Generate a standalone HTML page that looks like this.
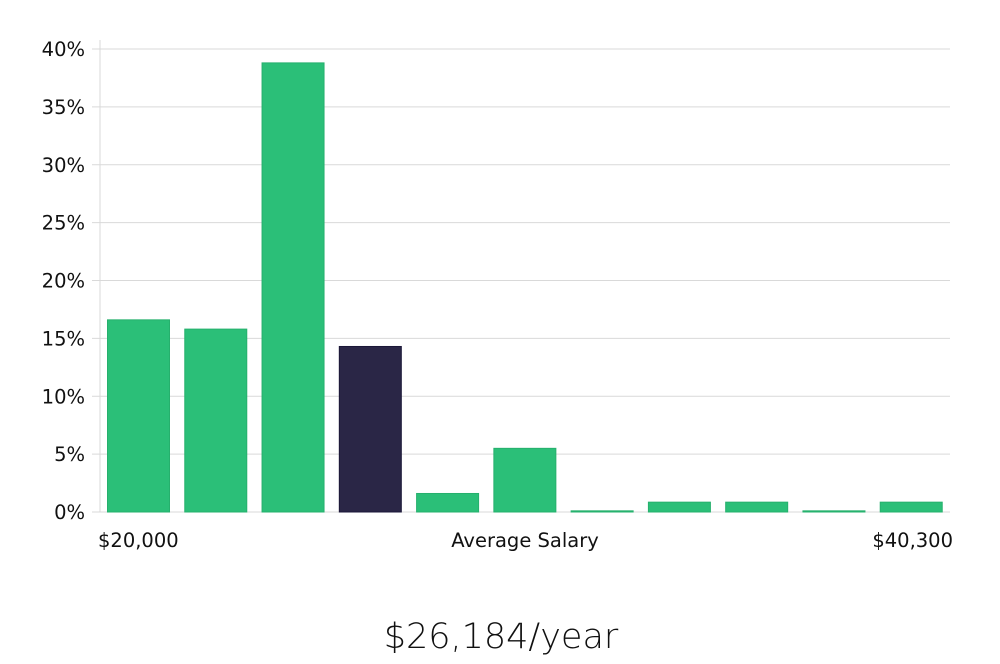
<!DOCTYPE html>
<html><head><meta charset="utf-8"><style>
body{margin:0;background:#fff;width:1000px;height:660px;overflow:hidden;font-family:"DejaVu Sans","Liberation Sans",sans-serif}
svg text{font-family:"DejaVu Sans","Liberation Sans",sans-serif}
</style></head><body>
<svg id="chart" width="1000" height="660" xmlns="http://www.w3.org/2000/svg"></svg>
<script>
const values=[16.6,15.8,38.8,14.3,1.6,5.5,0.1,0.85,0.85,0.1,0.85];
const highlight=[false,false,false,true,false,false,false,false,false,false,false];
const yTicks=[0,5,10,15,20,25,30,35,40];
const yTickLabels=["0%","5%","10%","15%","20%","25%","30%","35%","40%"];
const xLabels=["$20,000","Average Salary","$40,300"];
const salaryText="$26,184/year";

const NS="http://www.w3.org/2000/svg";
const svg=document.getElementById('chart');
const x0=100,x1=950,y0=512,yTop=49,yMax=40;
const y=v=>y0-(v/yMax)*(y0-yTop);
const slot=(x1-x0)/values.length;
const xb=i=>x0+i*slot+7;
function mk(tag,attrs){const e=document.createElementNS(NS,tag);for(const k in attrs)e.setAttribute(k,attrs[k]);svg.appendChild(e);return e;}

yTicks.forEach((t,i)=>{
  const g=mk('line',{x1:x0,x2:x1,y1:y(t),y2:y(t),stroke:'#d9d9d9','stroke-width':1});
  
  
  const tk=mk('line',{x1:x0-8,x2:x0,y1:y(t),y2:y(t),stroke:'#d9d9d9','stroke-width':1});
  
  
  const l=mk('text',{x:85,y:y(t)+7,'text-anchor':'end','font-size':19.5,fill:'#111'});
  l.textContent=yTickLabels[i];
  
  
});
const ax=mk('line',{x1:x0,x2:x0,y1:40,y2:y0,stroke:'#d9d9d9','stroke-width':1});



values.forEach((v,i)=>{
  const h=Math.max(y0-y(v),1);
  const r=mk('rect',{x:xb(i)+0.5,y:y0-h,width:62,height:h,
    fill:highlight[i]?'#2a2646':'#2bbf78',stroke:highlight[i]?'#1b1738':'#26b06d','stroke-width':1});
  
  
});

const xl=[[98,'start'],[525,'middle'],[953,'end']];
xLabels.forEach((s,i)=>{
  const t=mk('text',{x:xl[i][0],y:547,'text-anchor':xl[i][1],'font-size':19.5,fill:'#111'});
  t.textContent=s;
  
  
});
const st=mk('text',{x:501,y:648,'text-anchor':'middle','font-size':35,fill:'#111','font-weight':300});
st.textContent=salaryText;


</script>
</body></html>
